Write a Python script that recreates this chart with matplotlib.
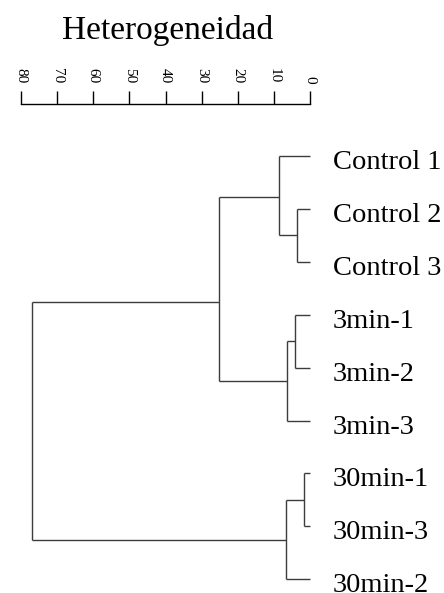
import numpy as np
import matplotlib
matplotlib.use("Agg")
import matplotlib.pyplot as plt

plt.rcParams["font.family"] = ["Liberation Serif", "DejaVu Serif"]

# leaves in the order they are drawn, top to bottom
leaf_labels = ["Control 1", "Control 2", "Control 3",
               "3min-1", "3min-2", "3min-3",
               "30min-1", "30min-3", "30min-2"]

# merges: children refer to leaf index (0..8) or to earlier merge (9 + k)
merge_left = [1, 0, 3, 11, 10, 6, 14, 13]
merge_right = [2, 9, 4, 5, 12, 7, 8, 15]
merge_height = [3.6, 8.6, 4.1, 6.4, 25.2, 1.7, 6.6, 77.0]
# vertical position where each cluster attaches to its parent (leaf units)
merge_y = [1.5, 0.77, 3.5, 4.25, 2.76, 6.5, 7.25, 4.9]

ticks = list(range(0, 81, 10))
title = "Heterogeneidad"

W, H = 444, 593
fig = plt.figure(figsize=(W / 100, H / 100), dpi=100)
ax = fig.add_axes([21 / W, 0, 291 / W, (H - 103.5) / H])

n = len(leaf_labels)
pos_y = list(range(n)) + merge_y
pos_x = [0.0] * n + merge_height

line_kw = dict(color="#3c3c3c", lw=1.0, solid_capstyle="butt")
for k in range(len(merge_height)):
    h = merge_height[k]
    a, b = merge_left[k], merge_right[k]
    ax.plot([pos_x[a], h], [pos_y[a], pos_y[a]], **line_kw)
    ax.plot([pos_x[b], h], [pos_y[b], pos_y[b]], **line_kw)
    ax.plot([h, h], [pos_y[a], pos_y[b]], **line_kw)

for i, lab in enumerate(leaf_labels):
    ax.annotate(lab, xy=(-0.5, i), xytext=(15, -9.4), textcoords="offset points",
                ha="left", va="baseline", fontsize=20.5, annotation_clip=False)

ax.set_xlim(80, -0.5)
ax.set_ylim(8.26, -0.992)

for s in ["left", "right", "bottom"]:
    ax.spines[s].set_visible(False)
ax.spines["top"].set_bounds(0, 80)
ax.spines["top"].set_linewidth(1.0)
ax.set_yticks([])
ax.xaxis.tick_top()
ax.set_xticks(ticks)
ax.set_xticklabels([str(t) for t in ticks])
ax.tick_params(axis="x", direction="out", length=9.4, width=1.0,
               labelsize=11, labelrotation=270, pad=5)
ax.patch.set_visible(False)

fig.text(167.5 / W, 1 - 39 / H, title, ha="center", va="baseline", fontsize=24)

fig.savefig("out.png", dpi=100)
